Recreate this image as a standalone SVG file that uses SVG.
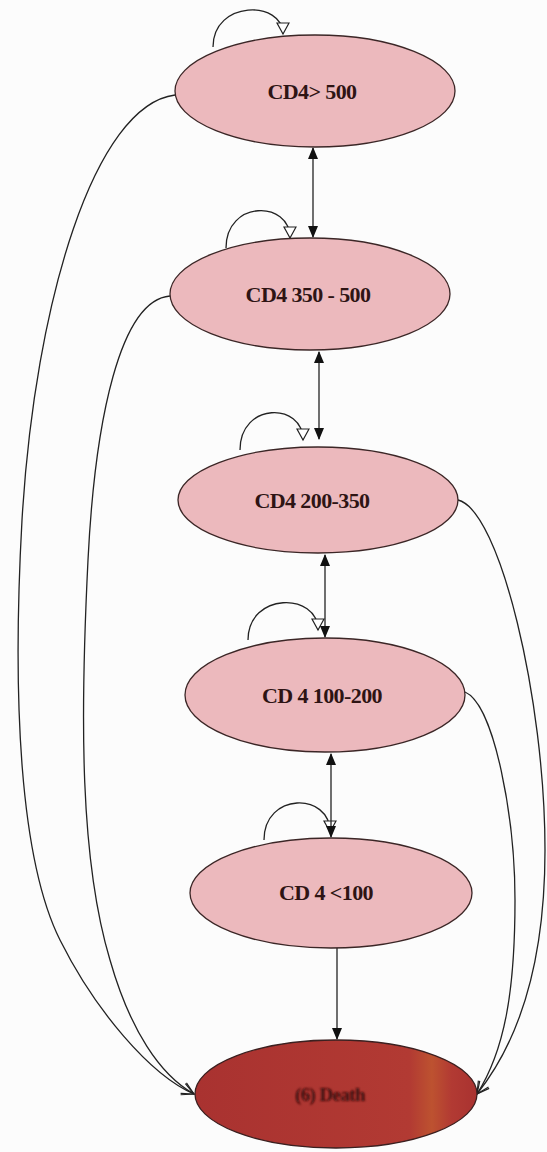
<svg xmlns="http://www.w3.org/2000/svg" width="547" height="1152" viewBox="0 0 547 1152">
  <style>
    .state { fill: #ecb9bd; stroke: #3b2626; stroke-width: 1.3; }
    .absorb { fill: #ae3532; stroke: #3b2020; stroke-width: 1.3; }
    .lbl { font-family: "Liberation Serif", "Times New Roman", serif; font-weight: bold; font-size: 22px; letter-spacing: -0.6px; fill: #2e1414; text-anchor: middle; }
    .edge { fill: none; stroke: #222; stroke-width: 1.3; }
  </style>
  <defs>
    <marker id="solid" viewBox="0 0 12 12" refX="11" refY="6" markerWidth="12" markerHeight="12" markerUnits="userSpaceOnUse" orient="auto-start-reverse">
      <path d="M0,1 L12,6 L0,11 Z" fill="#111"/>
    </marker>
    <marker id="hollow" viewBox="0 0 14 14" refX="12" refY="7" markerWidth="14" markerHeight="14" markerUnits="userSpaceOnUse" orient="auto">
      <path d="M1,1 L12,7 L1,13 Z" fill="#fff" stroke="#222" stroke-width="1.2"/>
    </marker>
    <marker id="open" viewBox="0 0 14 14" refX="13" refY="7" markerWidth="14" markerHeight="14" markerUnits="userSpaceOnUse" orient="auto">
      <path d="M1,1 L13,7 L1,13" fill="none" stroke="#222" stroke-width="1.2"/>
    </marker>
    <linearGradient id="deathFill" x1="0" y1="0" x2="1" y2="0">
      <stop offset="0" stop-color="#a93230"/>
      <stop offset="0.76" stop-color="#b23a33"/>
      <stop offset="0.84" stop-color="#bd5230"/>
      <stop offset="0.91" stop-color="#b23a33"/>
      <stop offset="1" stop-color="#a93230"/>
    </linearGradient>
    <filter id="soft" x="-10%" y="-30%" width="120%" height="160%">
      <feGaussianBlur stdDeviation="0.9"/>
    </filter>
  </defs>

  <rect width="547" height="1152" fill="#fcfcfc"/>

  <g id="connectors">
    <!-- self transitions -->
    <path class="edge" d="M213,47 C213,0 283,0 283,34" marker-end="url(#hollow)"/>
    <path class="edge" d="M226,248 C226,200 290,200 290,238" marker-end="url(#hollow)"/>
    <path class="edge" d="M240,450 C240,402 303,402 303,440" marker-end="url(#hollow)"/>
    <path class="edge" d="M248,640 C248,592 318,592 318,630" marker-end="url(#hollow)"/>
    <path class="edge" d="M264,840 C264,792 330,792 330,832" marker-end="url(#hollow)"/>
    <!-- two-way transitions between neighbouring states -->
    <path class="edge" d="M313,148 L313,237" marker-start="url(#solid)" marker-end="url(#solid)"/>
    <path class="edge" d="M319,352 L319,439" marker-start="url(#solid)" marker-end="url(#solid)"/>
    <path class="edge" d="M325,555 L325,637" marker-start="url(#solid)" marker-end="url(#solid)"/>
    <path class="edge" d="M331,754 L331,837" marker-start="url(#solid)" marker-end="url(#solid)"/>
    <!-- to death -->
    <path class="edge" d="M337,948 L337,1039" marker-end="url(#solid)"/>
    <path class="edge" d="M175,95 C95,105 35,300 22,520 C12,700 20,860 60,940 C95,1010 150,1075 194,1094" marker-end="url(#open)"/>
    <path class="edge" d="M170,296 C120,300 95,420 88,560 C80,720 80,860 110,960 C130,1030 160,1075 194,1094" marker-end="url(#open)"/>
    <path class="edge" d="M458,500 C500,510 545,700 545,850 C545,960 520,1040 477,1094" marker-end="url(#open)"/>
    <path class="edge" d="M465,692 C495,705 515,820 515,900 C515,990 505,1050 477,1094" marker-end="url(#open)"/>
  </g>

  <g id="cd4-over-500">
    <ellipse class="state" cx="315" cy="91" rx="140" ry="56"/>
    <text class="lbl" x="312" y="99">CD4&gt; 500</text>
  </g>
  <g id="cd4-350-500">
    <ellipse class="state" cx="310" cy="294" rx="140" ry="56"/>
    <text class="lbl" x="308" y="302">CD4 350 - 500</text>
  </g>
  <g id="cd4-200-350">
    <ellipse class="state" cx="318" cy="500" rx="140" ry="53"/>
    <text class="lbl" x="312" y="508">CD4  200-350</text>
  </g>
  <g id="cd4-100-200">
    <ellipse class="state" cx="325" cy="695" rx="140" ry="57"/>
    <text class="lbl" x="322" y="703">CD 4 100-200</text>
  </g>
  <g id="cd4-under-100">
    <ellipse class="state" cx="331" cy="893" rx="141" ry="55"/>
    <text class="lbl" x="326" y="900">CD 4 &lt;100</text>
  </g>
  <g id="death">
    <ellipse class="absorb" cx="336" cy="1094" rx="141" ry="54" style="fill:url(#deathFill)"/>
    <text class="lbl" x="330" y="1101" filter="url(#soft)" style="font-size:19px;fill:#3a0d0d">(6) Death</text>
  </g>
</svg>
